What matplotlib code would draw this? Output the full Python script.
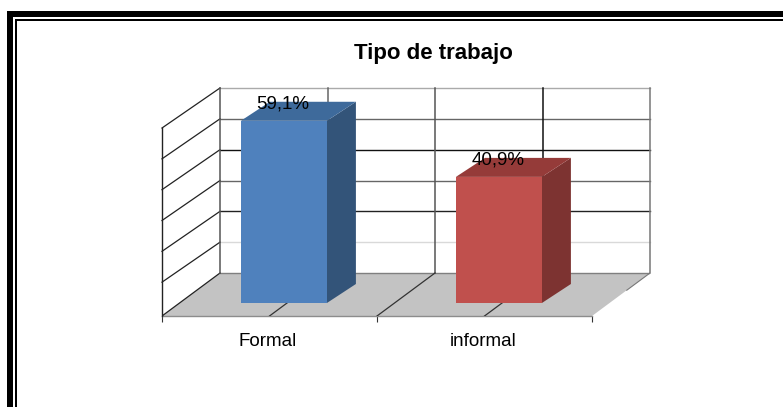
import matplotlib
matplotlib.use("Agg")
import matplotlib.pyplot as plt
from matplotlib.patches import Polygon, Rectangle

categories = ["Formal", "informal"]
values = [59.1, 40.9]
labels = ["59,1%", "40,9%"]
gridlines = [10, 20, 30, 40, 50, 60]
grid_cols = ["#d9d9d9", "#222222", "#666666", "#111111", "#666666", "#aaaaaa"]
title = "Tipo de trabajo"

W, H = 783, 407
plt.rcParams["font.family"] = ["Liberation Sans", "DejaVu Sans"]
fig = plt.figure(figsize=(W / 100, H / 100), dpi=100)

# frame, in pixels
bg = fig.add_axes([0, 0, 1, 1])
bg.set_xlim(0, W)
bg.set_ylim(H, 0)
bg.axis("off")
bg.add_patch(Rectangle((7, 11), 6, H, color="black", lw=0))
bg.add_patch(Rectangle((7, 11), W, 6, color="black", lw=0))
bg.add_patch(Rectangle((15, 19), 2, H, color="black", lw=0))
bg.add_patch(Rectangle((15, 19), W, 2, color="black", lw=0))

# front plane runs 162..592 px wide, 316 px bottom; 60% is 185 px tall
px_x = 215.0
px_y = 185 / 60.0
depth_x = 58 / px_x
depth_y = 43 / px_y
wall_lift = 3 / px_y

left, right = 162, 650
top, bottom = 88, 316
ax = fig.add_axes([left / W, 1 - bottom / H, (right - left) / W, (bottom - top) / H])
ax.set_xlim(0, 2 + depth_x)
ax.set_ylim(0, 60 + depth_y)
ax.patch.set_visible(False)
for s in ax.spines.values():
    s.set_visible(False)

# floor
ax.add_patch(Polygon([(0, 0), (2, 0), (2 + depth_x, depth_y), (depth_x, depth_y)],
                     facecolor="#c3c3c3", edgecolor="none", zorder=1))
ax.plot([0, 2], [0, 0], color="#8c8c8c", lw=1, zorder=2, clip_on=False)
ax.plot([depth_x, 2 + depth_x], [depth_y, depth_y], color="#7f7f7f", lw=1, zorder=2)
ax.plot([2 + depth_x * 0.6, 2 + depth_x], [depth_y * 0.6, depth_y], color="#777777", lw=0.8, zorder=2)

# back and side walls
for g, col in zip(gridlines, grid_cols):
    ax.plot([depth_x, 2 + depth_x], [g + depth_y, g + depth_y], color=col, lw=1, zorder=2, clip_on=False)
    ax.plot([0, depth_x], [g + wall_lift, g + depth_y], color="#222222", lw=0.9, zorder=2, clip_on=False)
ax.plot([0, depth_x], [0, depth_y], color="#222222", lw=0.9, zorder=2)
ax.plot([0, 0], [0, 60 + wall_lift], color="#222222", lw=1, zorder=2, clip_on=False)
for xv, col in zip([0, 0.5, 1, 1.5, 2], ["#555555", "#666666", "#555555", "#111111", "#777777"]):
    ax.plot([xv + depth_x] * 2, [depth_y, 60 + depth_y], color=col, lw=1.1, zorder=2, clip_on=False)

# depth lines on the floor
for xv in [0.5, 1, 1.5]:
    ax.plot([xv, xv + depth_x], [0, depth_y], color="#333333", lw=0.9, zorder=2)

# bars
bar_x = [0.367, 1.367]
bar_w = 0.4
base = 13 / px_y
side_x = 29 / px_x
side_y = 19 / px_y
front_cols = ["#4f81bd", "#c0504d"]
side_cols = ["#335479", "#7d3331"]
top_cols = ["#3e6a9b", "#953b39"]
for x0, v, fc, sc, tc in zip(bar_x, values, front_cols, side_cols, top_cols):
    y0 = base
    y1 = base + v
    x1 = x0 + bar_w
    ax.add_patch(Polygon([(x1, y0), (x1 + side_x, y0 + side_y), (x1 + side_x, y1 + side_y), (x1, y1)],
                         facecolor=sc, edgecolor="none", zorder=3))
    ax.add_patch(Polygon([(x0, y1), (x1, y1), (x1 + side_x, y1 + side_y), (x0 + side_x, y1 + side_y)],
                         facecolor=tc, edgecolor="none", zorder=3))
    ax.add_patch(Polygon([(x0, y0), (x1, y0), (x1, y1), (x0, y1)],
                         facecolor=fc, edgecolor="none", zorder=4))

for x0, v, lab in zip(bar_x, values, labels):
    ax.text(x0 + 0.195, base + v + 17 / px_y, lab, ha="center", va="center",
            fontsize=13.5, color="black", zorder=5, clip_on=False)

# axis ticks
ax.set_xticks([0, 1, 2])
ax.set_xticklabels([])
ax.set_xticks([0.49, 1.495], minor=True)
ax.set_xticklabels(categories, minor=True, fontsize=13.5, color="black")
ax.tick_params(axis="x", which="major", length=4, width=0.8, color="#333333")
ax.tick_params(axis="x", which="minor", length=0, pad=12)
ax.set_yticks([])

fig.text(433 / W, 1 - 53.5 / H, title, ha="center", va="center", fontsize=16, fontweight="bold", color="black")

fig.savefig("out.png", dpi=100, facecolor="white")
